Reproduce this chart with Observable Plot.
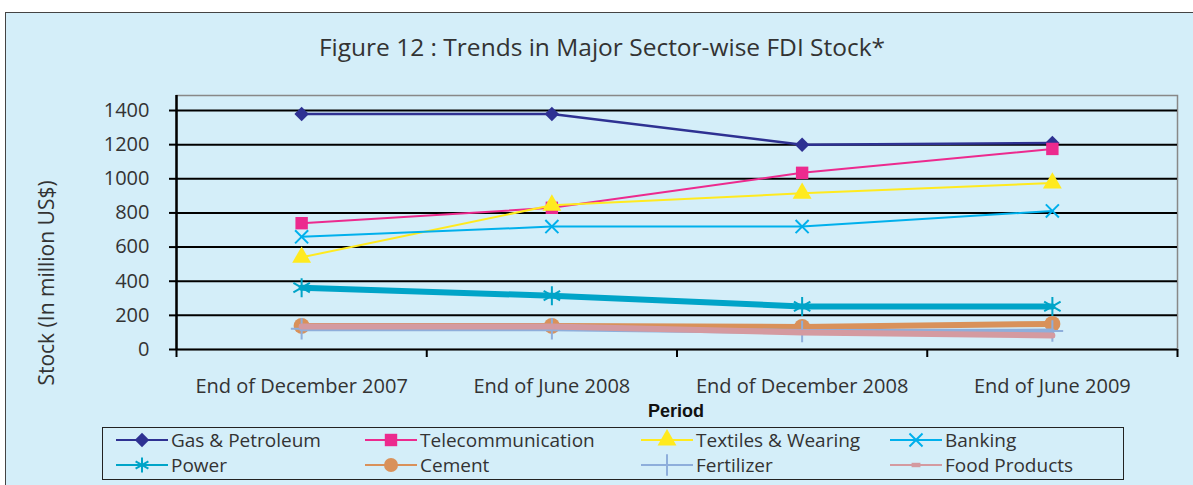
<!DOCTYPE html>
<html>
<head>
<meta charset="utf-8">
<script src="https://cdn.jsdelivr.net/npm/d3@7"></script>
<script src="https://cdn.jsdelivr.net/npm/@observablehq/plot@0.6"></script>
<style>
  html, body { margin: 0; padding: 0; background: #fff; }
  #wrap { position: relative; width: 1193px; height: 485px; overflow: hidden; background: #fff; font-family: "Open Sans", sans-serif; color: #333; }
  #frame { position: absolute; left: 5px; top: 12px; width: 1200px; height: 480px; background: #d4eef9; border: 1.5px solid #444; box-sizing: border-box; }
  #title { position: absolute; left: 5px; width: 1194px; top: 30px; text-align: center; font-size: 24.5px; color: #333; }
  #ylab { position: absolute; left: 46px; top: 283px; transform: translate(-50%, -50%) rotate(-90deg); font-size: 21px; white-space: nowrap; color: #333; }
  #xlab { position: absolute; left: 676px; top: 411px; transform: translate(-50%, -50%); font-family: "Liberation Sans", Arial, sans-serif; font-weight: bold; font-size: 18px; color: #111; }
  #chart { position: absolute; left: 0; top: 80px; }
  #legend { position: absolute; left: 102px; top: 427px; width: 1022px; height: 53px; border: 1.5px solid #222; box-sizing: border-box; }
  .item { position: absolute; display: flex; align-items: center; height: 24px; font-size: 19px; white-space: nowrap; color: #333; }
  .item svg { margin-right: 3px; }
</style>
</head>
<body>
<div id="wrap">
  <div id="frame"></div>
  <div id="title">Figure 12 : Trends in Major Sector-wise FDI Stock*</div>
  <div id="ylab">Stock (In million US$)</div>
  <div id="chart"></div>
  <div id="xlab">Period</div>
  <div id="legend"></div>
</div>
<script>
// ---- data ----
const periods = ["End of December 2007", "End of June 2008", "End of December 2008", "End of June 2009"];
const seriesNames = ["Gas & Petroleum", "Telecommunication", "Textiles & Wearing", "Banking", "Power", "Cement", "Fertilizer", "Food Products"];
const gasPetroleum = [1380, 1380, 1200, 1210];
const telecommunication = [740, 830, 1035, 1175];
const textilesWearing = [540, 845, 915, 975];
const banking = [660, 720, 720, 812];
const power = [362, 315, 252, 252];
const cement = [138, 138, 132, 150];
const fertilizer = [122, 122, 105, 108];
const foodProducts = [135, 135, 100, 82];
const yTicks = [0, 200, 400, 600, 800, 1000, 1200, 1400];

const seriesValues = [gasPetroleum, telecommunication, textilesWearing, banking, power, cement, fertilizer, foodProducts];

// ---- styles ----
const styles = [
  {color: "#2e3192", width: 2.5, symbol: "diamond2", r: 6.5, filled: true},
  {color: "#ec2a8e", width: 2, symbol: "square", r: 7, filled: true},
  {color: "#ffea1f", width: 2, symbol: "triangle", r: 7, filled: true},
  {color: "#00b0ec", width: 2, symbol: "times", r: 6, filled: false},
  {color: "#00a4c8", width: 6, symbol: "asterisk", r: 9, filled: false},
  {color: "#d9915a", width: 6, symbol: "circle", r: 8, filled: true},
  {color: "#8eaedb", width: 5, symbol: "plus", r: 7, filled: false},
  {color: "#d49aa0", width: 6, symbol: "square", r: 2.5, filled: true}
];

const rows = [];
seriesNames.forEach((name, s) => {
  seriesValues[s].forEach((v, i) => rows.push({series: name, idx: i, value: v}));
});

const marks = [
  Plot.frame({stroke: "#888", strokeWidth: 1.5}),
  Plot.ruleY(yTicks, {stroke: "#000", strokeWidth: 2}),
  Plot.axisY({ticks: yTicks, tickSize: 7, tickPadding: 20, stroke: "#000", strokeWidth: 2, fontSize: 20, fill: "#333", tickFormat: d => String(d), label: null}),
  Plot.axisX({ticks: d3.range(periods.length + 1).map(i => i - 0.5), tickSize: 8, stroke: "#000", strokeWidth: 2, tickFormat: () => "", label: null}),
  Plot.axisX({ticks: d3.range(periods.length), tickSize: 0, tickPadding: 29, fontSize: 20, fill: "#333", tickFormat: i => periods[i], label: null}),
  Plot.ruleX([-0.5], {stroke: "#000", strokeWidth: 2.5})
];

seriesNames.forEach((name, s) => {
  const st = styles[s];
  const data = rows.filter(d => d.series === name);
  marks.push(Plot.line(data, {x: "idx", y: "value", stroke: st.color, strokeWidth: st.width, strokeLinejoin: "round"}));
  marks.push(Plot.dot(data, {
    x: "idx", y: "value", symbol: () => st.symbol, r: st.r,
    fill: st.filled ? st.color : "none",
    stroke: st.color, strokeWidth: st.filled ? 0 : 2
  }));
});

const chart = Plot.plot({
  width: 1193,
  height: 345,
  marginLeft: 176,
  marginRight: 16,
  marginTop: 15,
  marginBottom: 76,
  style: {background: "transparent", fontFamily: "'Open Sans', sans-serif"},
  x: {type: "linear", domain: [-0.5, periods.length - 0.5]},
  y: {domain: [0, 1488]},
  symbol: {type: "identity"},
  marks
});
document.getElementById("chart").appendChild(chart);

// ---- legend ----
const legend = document.getElementById("legend");
const colX = [13, 262, 538, 787];
const rowY = [0, 25];
const symMap = {diamond2: d3.symbolDiamond2, square: d3.symbolSquare, triangle: d3.symbolTriangle, times: d3.symbolTimes, asterisk: d3.symbolAsterisk, circle: d3.symbolCircle, plus: d3.symbolPlus};
seriesNames.forEach((name, s) => {
  const st = styles[s];
  const item = document.createElement("div");
  item.className = "item";
  item.style.left = colX[s % 4] + "px";
  item.style.top = rowY[Math.floor(s / 4)] + "px";
  const ns = "http://www.w3.org/2000/svg";
  const svg = document.createElementNS(ns, "svg");
  svg.setAttribute("width", 52);
  svg.setAttribute("height", 24);
  const line = document.createElementNS(ns, "line");
  line.setAttribute("x1", 0); line.setAttribute("x2", 52);
  line.setAttribute("y1", 12); line.setAttribute("y2", 12);
  line.setAttribute("stroke", st.color);
  line.setAttribute("stroke-width", 2);
  svg.appendChild(line);
  const p = document.createElementNS(ns, "path");
  const rr = Math.min(st.r, 7);
  let size = Math.PI * rr * rr;
  if (s === 7) size = 40;
  p.setAttribute("d", d3.symbol(symMap[st.symbol], size)());
  p.setAttribute("transform", s === 7 ? "translate(26,12) scale(1.4,0.7)" : "translate(26,12)");
  p.setAttribute("fill", st.filled ? st.color : "none");
  p.setAttribute("stroke", st.filled ? "none" : st.color);
  p.setAttribute("stroke-width", 2);
  svg.appendChild(p);
  item.appendChild(svg);
  const t = document.createElement("span");
  t.textContent = name;
  item.appendChild(t);
  legend.appendChild(item);
});
</script>
</body>
</html>
